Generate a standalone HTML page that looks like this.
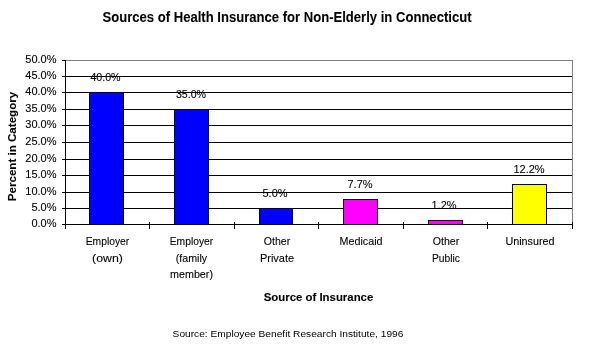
<!DOCTYPE html>
<html><head><meta charset="utf-8">
<style>
html,body{margin:0;padding:0;background:#fff;width:590px;height:346px;overflow:hidden}
svg{display:block;will-change:transform}
text{font-family:"Liberation Sans",sans-serif;fill:#000}
.t{font-size:14px;font-weight:bold;stroke:#000;stroke-width:0.08px}
.ax{font-size:11.5px;font-weight:bold;stroke:#000;stroke-width:0.1px}
.n{font-size:11px;stroke:#000;stroke-width:0.1px}
.s{font-size:9.6px}
</style></head><body>
<svg width="590" height="346" viewBox="0 0 590 346">
<text class="t" x="287" y="22" text-anchor="middle" textLength="369" lengthAdjust="spacingAndGlyphs">Sources of Health Insurance for Non-Elderly in Connecticut</text>
<text class="ax" transform="translate(16,146.5) rotate(-90)" text-anchor="middle" textLength="109.4" lengthAdjust="spacingAndGlyphs">Percent in Category</text>
<g shape-rendering="crispEdges">
<line x1="65" y1="60.5" x2="573" y2="60.5" stroke="#808080"/>
<line x1="572.5" y1="60" x2="572.5" y2="224" stroke="#808080"/>
<g stroke="#000">
<line x1="62" y1="60.5" x2="66" y2="60.5"/>
<line x1="62" y1="76.5" x2="572" y2="76.5"/>
<line x1="62" y1="92.5" x2="572" y2="92.5"/>
<line x1="62" y1="109.5" x2="572" y2="109.5"/>
<line x1="62" y1="125.5" x2="572" y2="125.5"/>
<line x1="62" y1="142.5" x2="572" y2="142.5"/>
<line x1="62" y1="159.5" x2="572" y2="159.5"/>
<line x1="62" y1="175.5" x2="572" y2="175.5"/>
<line x1="62" y1="192.5" x2="572" y2="192.5"/>
<line x1="62" y1="208.5" x2="572" y2="208.5"/>
</g>
<g stroke="#000">
<rect x="89.5" y="92.5" width="34" height="132" fill="#0000ff"/>
<rect x="174.5" y="109.5" width="34" height="115" fill="#0000ff"/>
<rect x="259.5" y="208.5" width="33" height="16" fill="#0000ff"/>
<rect x="343.5" y="199.5" width="34" height="25" fill="#ff00ff"/>
<rect x="428.5" y="220.5" width="34" height="4" fill="#ff00ff"/>
<rect x="512.5" y="184.5" width="34" height="40" fill="#ffff00"/>
</g>
<g stroke="#000">
<line x1="65.5" y1="60" x2="65.5" y2="229"/>
<line x1="62" y1="224.5" x2="573" y2="224.5"/>
<line x1="149.5" y1="222" x2="149.5" y2="229"/>
<line x1="234.5" y1="222" x2="234.5" y2="229"/>
<line x1="318.5" y1="222" x2="318.5" y2="229"/>
<line x1="403.5" y1="222" x2="403.5" y2="229"/>
<line x1="487.5" y1="222" x2="487.5" y2="229"/>
<line x1="572.5" y1="222" x2="572.5" y2="229"/>
</g>
</g>
<text class="n" x="56.5" y="63" text-anchor="end">50.0%</text>
<text class="n" x="56.5" y="79" text-anchor="end">45.0%</text>
<text class="n" x="56.5" y="95" text-anchor="end">40.0%</text>
<text class="n" x="56.5" y="112" text-anchor="end">35.0%</text>
<text class="n" x="56.5" y="128" text-anchor="end">30.0%</text>
<text class="n" x="56.5" y="145" text-anchor="end">25.0%</text>
<text class="n" x="56.5" y="162" text-anchor="end">20.0%</text>
<text class="n" x="56.5" y="178" text-anchor="end">15.0%</text>
<text class="n" x="56.5" y="195" text-anchor="end">10.0%</text>
<text class="n" x="56.5" y="211" text-anchor="end">5.0%</text>
<text class="n" x="56.5" y="227" text-anchor="end">0.0%</text>
<text class="n" x="105.5" y="81" text-anchor="middle" textLength="30.2" lengthAdjust="spacingAndGlyphs">40.0%</text>
<text class="n" x="191" y="98" text-anchor="middle" textLength="30.2" lengthAdjust="spacingAndGlyphs">35.0%</text>
<text class="n" x="275" y="197" text-anchor="middle">5.0%</text>
<text class="n" x="360" y="188" text-anchor="middle">7.7%</text>
<text class="n" x="444" y="209" text-anchor="middle">1.2%</text>
<text class="n" x="529" y="173" text-anchor="middle">12.2%</text>
<text class="n" x="107.5" y="245" text-anchor="middle" textLength="43.5" lengthAdjust="spacingAndGlyphs">Employer</text>
<text class="n" x="107.5" y="262" text-anchor="middle" textLength="30.8" lengthAdjust="spacingAndGlyphs">(own)</text>
<text class="n" x="191.5" y="245" text-anchor="middle" textLength="43.5" lengthAdjust="spacingAndGlyphs">Employer</text>
<text class="n" x="191.5" y="262" text-anchor="middle" textLength="31.4" lengthAdjust="spacingAndGlyphs">(family</text>
<text class="n" x="191.5" y="278" text-anchor="middle" textLength="43" lengthAdjust="spacingAndGlyphs">member)</text>
<text class="n" x="277" y="245" text-anchor="middle" textLength="26.5" lengthAdjust="spacingAndGlyphs">Other</text>
<text class="n" x="277" y="262" text-anchor="middle">Private</text>
<text class="n" x="361" y="245" text-anchor="middle" textLength="43" lengthAdjust="spacingAndGlyphs">Medicaid</text>
<text class="n" x="446" y="245" text-anchor="middle" textLength="26.5" lengthAdjust="spacingAndGlyphs">Other</text>
<text class="n" x="446" y="262" text-anchor="middle" textLength="28" lengthAdjust="spacingAndGlyphs">Public</text>
<text class="n" x="530" y="245" text-anchor="middle" textLength="49.1" lengthAdjust="spacingAndGlyphs">Uninsured</text>
<text class="ax" x="318.5" y="301" text-anchor="middle" textLength="109.6" lengthAdjust="spacingAndGlyphs">Source of Insurance</text>
<text class="s" x="288" y="337" text-anchor="middle" textLength="230.8" lengthAdjust="spacingAndGlyphs">Source: Employee Benefit Research Institute, 1996</text>
</svg>
</body></html>
